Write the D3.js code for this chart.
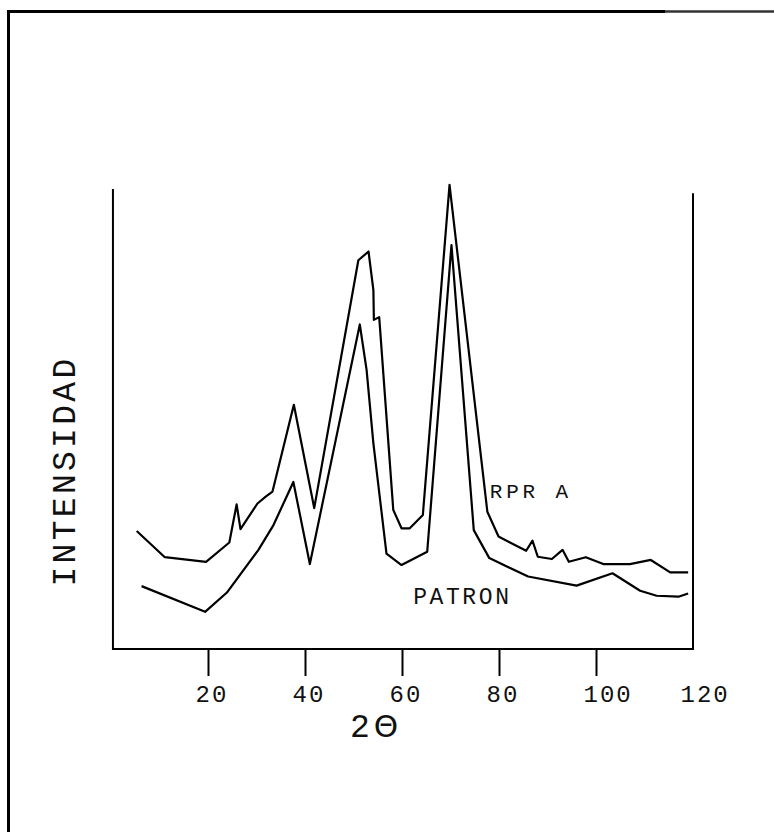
<!DOCTYPE html>
<html>
<head>
<meta charset="utf-8">
<script src="https://cdn.jsdelivr.net/npm/d3@7"></script>
<style>
  body { margin: 0; background: #fff; }
  text { font-family: "Liberation Mono", monospace; fill: #111; }
</style>
</head>
<body>
<div id="chart"></div>
<script>
// values (2-theta in degrees, intensity in arbitrary units 0-100)
const rprTheta = [5.3, 11.1, 19.6, 24.4, 25.9, 26.7, 30.2, 31.9, 33.3, 37.7, 41.9, 51.0, 53.1, 54.1, 54.2, 55.3,
  58.2, 59.9, 61.6, 64.3, 69.8, 77.6, 79.9, 85.6, 86.9, 88.0, 90.9, 93.1, 94.4, 97.9, 101.5, 107.0, 111.3, 115.3, 119.0];
const rprInt = [25.7, 20.0, 19.0, 23.2, 31.5, 26.1, 31.7, 33.2, 34.3, 53.2, 30.7, 84.7, 86.6, 78.2, 71.7, 72.3,
  30.3, 26.3, 26.3, 29.2, 101.1, 29.9, 24.5, 21.4, 23.6, 20.1, 19.6, 21.6, 19.0, 20.0, 18.5, 18.5, 19.4, 16.7, 16.7];

const patronTheta = [6.3, 19.4, 23.9, 30.4, 33.5, 37.6, 41.0, 51.3, 52.7, 54.1, 56.8, 59.9, 65.2, 70.2, 74.8,
  78.0, 86.0, 96.0, 103.4, 109.1, 112.5, 117.0, 119.0];
const patronInt = [13.7, 8.1, 12.3, 21.6, 27.0, 36.4, 18.5, 70.7, 60.8, 44.8, 20.8, 18.3, 21.2, 88.0, 25.9,
  19.8, 15.8, 13.8, 16.5, 12.7, 11.6, 11.4, 12.1];

const xTicks = [20, 40, 60, 80, 100, 120];
const seriesNames = ["RPR A", "PATRON"];
const yTitle = "INTENSIDAD";

const W = 774, H = 832;

const svg = d3
  .select("#chart")
  .append("svg")
  .attr("width", W)
  .attr("height", H)
  .style("display", "block");

svg.append("rect").attr("width", W).attr("height", H).attr("fill", "#fff");

// outer frame (only top and left edges show on the scan)
svg.append("path")
  .attr("d", "M8.5,832 V11.5 H665")
  .attr("fill", "none")
  .attr("stroke", "#000")
  .attr("stroke-width", 3);
svg.append("path")
  .attr("d", "M665,11.5 H774")
  .attr("fill", "none")
  .attr("stroke", "#333")
  .attr("stroke-width", 2.5);

const x = d3.scaleLinear().domain([0, 120]).range([111, 693]);
const y = d3.scaleLinear().domain([0, 100]).range([649, 190]);

// axes box: left, bottom, right
svg.append("path")
  .attr("d", `M${x(0.4)},${y(100.2)} V${y(0)} H${x(120)} V${y(99.3)}`)
  .attr("fill", "none")
  .attr("stroke", "#000")
  .attr("stroke-width", 2);

const xAxis = svg.append("g")
  .attr("transform", `translate(0,${y(0)})`)
  .call(d3.axisBottom(x).tickValues(xTicks).tickSize(27).tickFormat(d3.format("d")));

xAxis.select(".domain").remove();
xAxis.selectAll(".tick line")
  .attr("stroke", "#000")
  .attr("stroke-width", 2)
  .filter(d => d === 120)
  .remove();
xAxis.selectAll(".tick text")
  .attr("text-anchor", "start")
  .attr("x", -13)
  .attr("y", 53)
  .attr("dy", 0)
  .style("font-size", "24px")
  .style("letter-spacing", "2px")
  .attr("fill", "#111");

// x title: "2" plus a theta drawn as a barred circle
const xt = svg.append("text")
  .attr("x", 350)
  .attr("y", 737)
  .style("font-size", "33px");
xt.append("tspan").text("2");
xt.append("tspan")
  .attr("dx", 4)
  .style("font-family", "DejaVu Sans")
  .style("font-size", "31px")
  .text("\u0398");

svg.append("text")
  .attr("transform", "translate(75,471) rotate(-90)")
  .attr("text-anchor", "middle")
  .style("font-size", "33px")
  .style("letter-spacing", "3.3px")
  .text(yTitle);

const line = d3.line()
  .x(d => x(d[0]))
  .y(d => y(d[1]));

const series = [
  d3.zip(rprTheta, rprInt),
  d3.zip(patronTheta, patronInt)
];

svg.selectAll("path.curve")
  .data(series)
  .join("path")
  .attr("class", "curve")
  .attr("d", line)
  .attr("fill", "none")
  .attr("stroke", "#000")
  .attr("stroke-width", 2.2)
  .attr("stroke-linejoin", "round");

// curve labels
const labelPos = [[78.1, 32.9, 21, 3.8], [62.3, 9.8, 23, 2.6]];
svg.selectAll("text.label")
  .data(seriesNames)
  .join("text")
  .attr("class", "label")
  .attr("x", (d, i) => x(labelPos[i][0]))
  .attr("y", (d, i) => y(labelPos[i][1]))
  .style("font-size", (d, i) => labelPos[i][2] + "px")
  .style("letter-spacing", (d, i) => labelPos[i][3] + "px")
  .text(d => d);
</script>
</body>
</html>
